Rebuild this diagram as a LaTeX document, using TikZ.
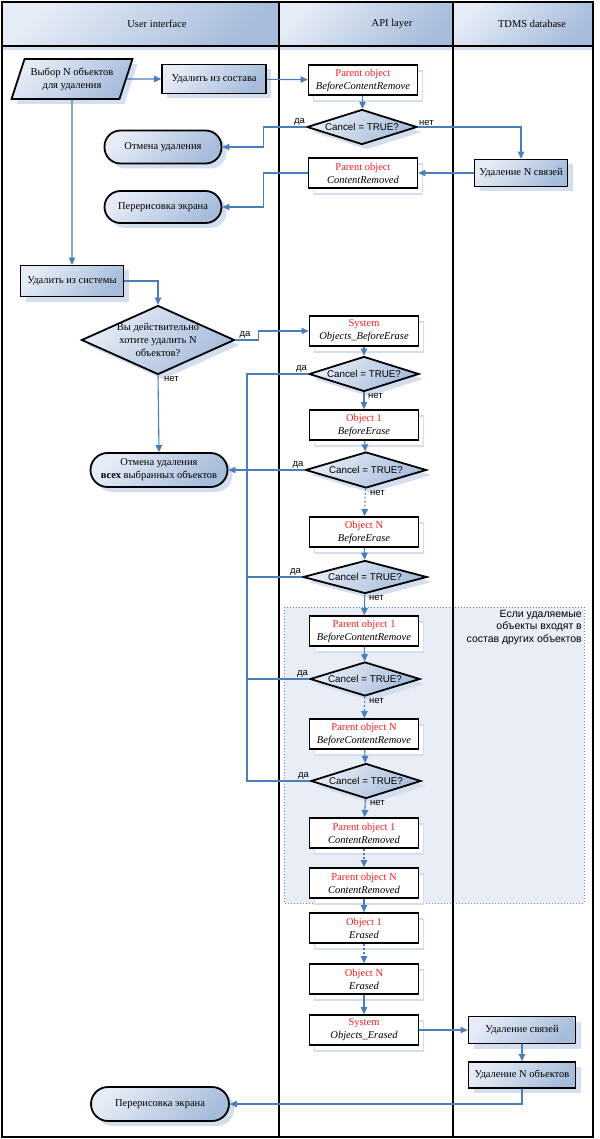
\documentclass[tikz,border=0pt]{standalone}
\usepackage{fontspec}
\setmainfont{Liberation Serif}
\newfontfamily\sansru{Liberation Sans}
\usetikzlibrary{arrows.meta, shapes.geometric, shadows}
\definecolor{linkblue}{HTML}{4A7EBB}
\definecolor{evred}{HTML}{F51D1D}
\definecolor{shA}{HTML}{E6ECF6}
\definecolor{shB}{HTML}{C5D3E8}
\definecolor{shC}{HTML}{A6BCDB}
\definecolor{ghost}{HTML}{D3DEEE}
\definecolor{areafill}{HTML}{E8EDF6}
\definecolor{arealine}{HTML}{5A8AD0}
\newcommand{\apievent}[2]{\textcolor{evred}{#1}\\\textit{#2}}
\tikzset{
  every node/.style = {font=\fontsize{10.5}{13}\selectfont},
  lane/.style = {line width=2.6pt},
  shaded/.style = {top color=shA, bottom color=shC, shading angle=45},
  blueshadow/.style = {drop shadow={shadow xshift=5pt, shadow yshift=-5pt, fill=ghost, opacity=1}},
  proc/.style = {draw, line width=1.8pt, shaded, blueshadow, align=center, inner sep=2pt, minimum height=29pt},
  data/.style = {proc, trapezium, trapezium left angle=66, trapezium right angle=114, trapezium stretches=true, minimum width=121pt, minimum height=40pt},
  term/.style = {proc, rounded corners=16pt, minimum height=33pt},
  event/.style = {draw, line width=1.8pt, fill=white, align=center, inner sep=1pt, minimum width=109pt, minimum height=30pt,
    drop shadow={shadow xshift=5pt, shadow yshift=-6pt, fill=white, draw=ghost, line width=1.5pt, opacity=1}},
  test/.style = {diamond, draw, line width=1.8pt, shaded, blueshadow, aspect=3.1, inner sep=0pt, minimum width=110pt, minimum height=35pt, font=\sansru\fontsize{9.8}{11}\selectfont},
  link/.style = {draw=linkblue, line width=1.1pt},
  flow/.style = {link, -{Triangle[length=7pt, width=6.5pt]}},
  dotflow/.style = {flow, dash pattern=on 2pt off 2pt},
  reply/.style = {font=\sansru\fontsize{9.5}{10}\selectfont, inner sep=1pt},
}
\begin{document}
\begin{tikzpicture}[x=1pt, y=-1pt]
\useasboundingbox (0,0) rectangle (599,1139);
\shade[shaded] (2,2) rectangle (279,46);
\shade[shaded] (279,2) rectangle (453,46);
\shade[shaded] (453,2) rectangle (593,46);
\fill[ghost] (2,46) rectangle (593,50);
\node (hui) at (157,24) {User interface};
\node (hapi) at (392,24) {API layer};
\node (hdb) at (532,24) {TDMS database};
\fill[areafill] (284,607) rectangle (584,903);
\draw[arealine, line width=1pt, dotted] (284,607) rectangle (584,903);
\node[anchor=north east, align=right, font=\sansru\fontsize{10.5}{12.5}\selectfont, inner sep=0pt] (note) at (582,610)
  {Если удаляемые\\объекты входят в\\состав других объектов};
\draw[lane] (2,2) rectangle (593,1137);
\draw[lane] (2,46) -- (593,46);
\draw[lane] (279,2) -- (279,1137);
\draw[lane] (453,2) -- (453,1137);

\node[data] (pick) at (72,79) {Выбор N объектов\\для удаления};
\node[proc, minimum width=104pt] (unlink) at (214,79) {Удалить из состава};
\node[term, minimum width=117pt] (abort) at (163,147) {Отмена удаления};
\node[term, minimum width=117pt, minimum height=32pt] (redraw) at (163,207) {Перерисовка экрана};
\node[proc, minimum width=103pt, minimum height=31pt] (erase) at (72,281) {Удалить из системы};
\node[proc, diamond, aspect=2.2, inner sep=-2pt, minimum width=153pt, minimum height=69pt] (confirm) at (158,340)
  {Вы действительно\\хотите удалить N\\объектов?};
\node[term, minimum width=137pt, minimum height=34pt, rounded corners=17pt] (abortall) at (159,470)
  {Отмена удаления\\\textbf{всех} выбранных объектов};
\node[term, minimum width=138pt, minimum height=34pt, rounded corners=17pt] (redrawend) at (160,1104) {Перерисовка экрана};

\node[event] (pbcr) at (363,80) {\apievent{Parent object}{BeforeContentRemove}};
\node[test] (q1) at (362,127) {Cancel = TRUE?};
\node[event] (pcr) at (363,173) {\apievent{Parent object}{ContentRemoved}};
\node[event] (sbe) at (364,331) {\apievent{System}{Objects\_BeforeErase}};
\node[test] (q2) at (364,374) {Cancel = TRUE?};
\node[event] (obe) at (364,425) {\apievent{Object 1}{BeforeErase}};
\node[test, minimum width=121pt, minimum height=36pt] (q3) at (366,470) {Cancel = TRUE?};
\node[event] (nbe) at (364,532) {\apievent{Object N}{BeforeErase}};
\node[test, minimum width=124pt, minimum height=33pt] (q4) at (365,577) {Cancel = TRUE?};
\node[event] (pobcr) at (364,631) {\apievent{Parent object 1}{BeforeContentRemove}};
\node[test, minimum height=34pt] (q5) at (365,679) {Cancel = TRUE?};
\node[event] (pnbcr) at (364,734) {\apievent{Parent object N}{BeforeContentRemove}};
\node[test] (q6) at (366,781) {Cancel = TRUE?};
\node[event] (pocr) at (364,833) {\apievent{Parent object 1}{ContentRemoved}};
\node[event] (pncr) at (364,883) {\apievent{Parent object N}{ContentRemoved}};
\node[event] (oer) at (364,928) {\apievent{Object 1}{Erased}};
\node[event] (ner) at (364,979) {\apievent{Object N}{Erased}};
\node[event] (ser) at (364,1030) {\apievent{System}{Objects\_Erased}};

\node[proc, minimum width=93pt, minimum height=27pt] (droplinks) at (521,173) {Удаление N связей};
\node[proc, minimum width=107pt, minimum height=27pt] (dellinks) at (522,1030) {Удаление связей};
\node[proc, minimum width=107pt, minimum height=26pt] (delobjs) at (522,1075) {Удаление N объектов};

\node[reply, anchor=south east] (y1) at (q1.west) {да};
\node[reply, anchor=south west] (n1) at (q1.east) {нет};
\node[reply, anchor=south west, xshift=3pt] (y0) at (confirm.east) {да};
\node[reply, anchor=north west, xshift=5pt] (n0) at (confirm.south) {нет};
\node[reply, anchor=south east] (y2) at (q2.west) {да};
\node[reply, anchor=north west, xshift=3pt] (n2) at (q2.south) {нет};
\node[reply, anchor=south east] (y3) at (q3.west) {да};
\node[reply, anchor=north west, xshift=3pt] (n3) at (q3.south) {нет};
\node[reply, anchor=south east] (y4) at (q4.west) {да};
\node[reply, anchor=north west, xshift=3pt] (n4) at (q4.south) {нет};
\node[reply, anchor=south east] (y5) at (q5.west) {да};
\node[reply, anchor=north west, xshift=3pt] (n5) at (q5.south) {нет};
\node[reply, anchor=south east] (y6) at (q6.west) {да};
\node[reply, anchor=north west, xshift=3pt] (n6) at (q6.south) {нет};

\coordinate (bustop) at (247,374);
\coordinate (busbot) at (247,781);
\draw[flow] (pick) -- (unlink);
\draw[flow] (unlink) -- (pbcr);
\draw[flow] (pbcr) -- (q1);
\draw[flow] (q1.west) -- ++(-43,0) |- (abort.east);
\draw[flow] (q1.east) -| (droplinks.north);
\draw[flow] (droplinks) -- (pcr);
\draw[flow] (pcr.west) -- ++(-44,0) |- (redraw.east);
\draw[flow] (pick.south) -- (erase.north);
\draw[flow] (erase.east) -| (confirm.north);
\draw[flow] (confirm.east) -- ++(23,0) |- (sbe.west);
\draw[flow] (confirm.south) -- (abortall.north);
\draw[flow] (sbe) -- (q2);
\draw[link] (q2.west) -- (bustop) -- (busbot) -- (q6.west);
\draw[link] (q4.west) -- (q4.west -| bustop);
\draw[link] (q5.west) -- (q5.west -| bustop);
\draw[flow] (q3.west) -- (abortall.east);
\draw[flow] (q2) -- (obe);
\draw[flow] (obe) -- (q3);
\draw[dotflow] (q3) -- (nbe);
\draw[flow] (nbe) -- (q4);
\draw[flow] (q4) -- (pobcr);
\draw[flow] (pobcr) -- (q5);
\draw[dotflow] (q5) -- (pnbcr);
\draw[flow] (pnbcr) -- (q6);
\draw[flow] (q6) -- (pocr);
\draw[dotflow] (pocr) -- (pncr);
\draw[flow] (pncr) -- (oer);
\draw[dotflow] (oer) -- (ner);
\draw[flow] (ner) -- (ser);
\draw[flow] (ser) -- (dellinks);
\draw[flow] (dellinks) -- (delobjs);
\draw[flow] (delobjs.south) |- (redrawend.east);
\end{tikzpicture}
\end{document}
